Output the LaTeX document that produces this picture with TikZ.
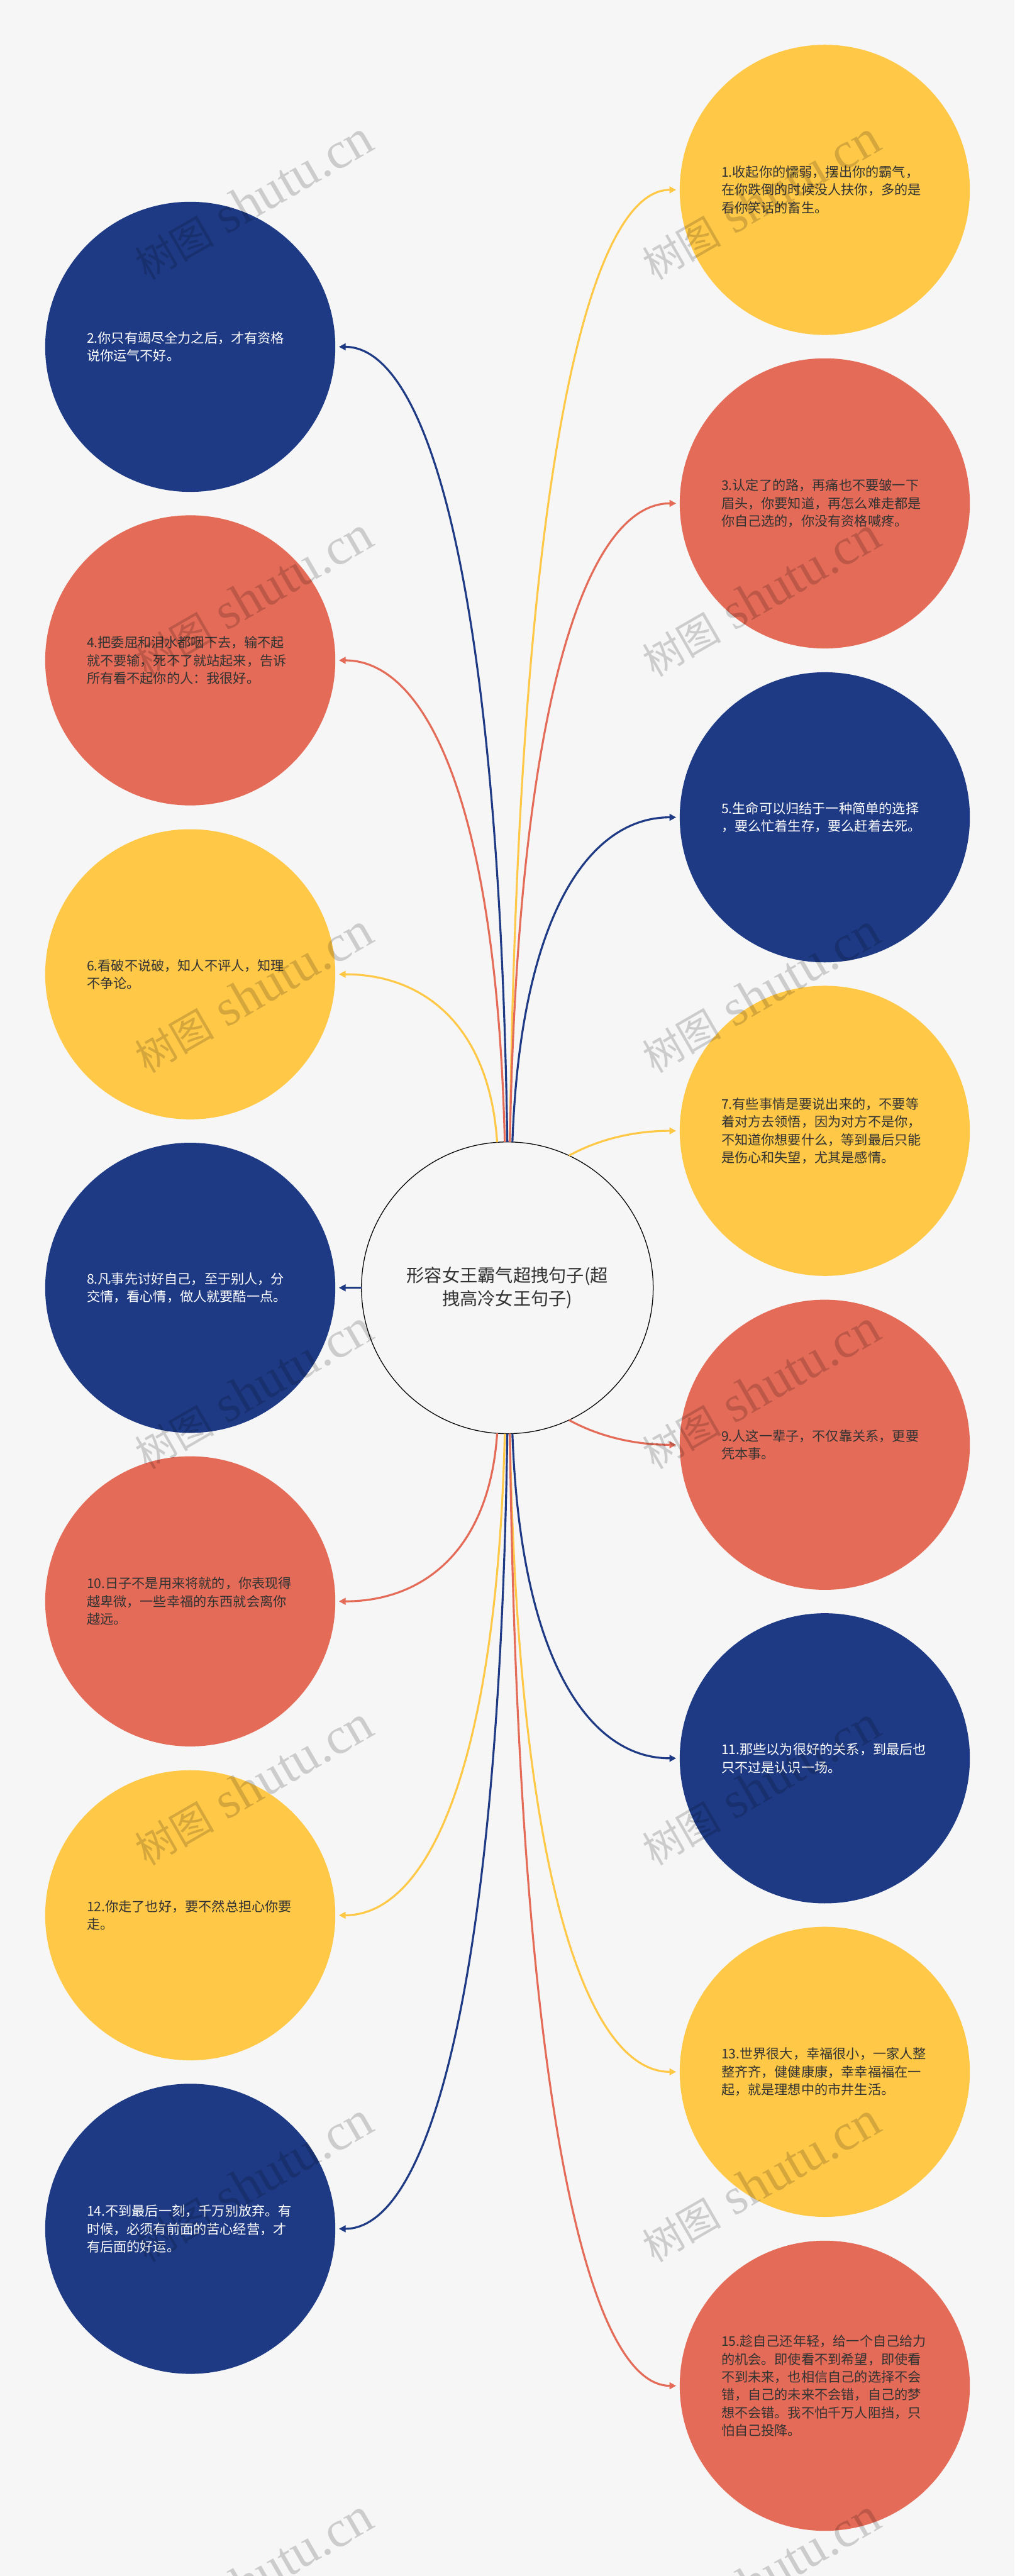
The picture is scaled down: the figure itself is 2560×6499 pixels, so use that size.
\documentclass[tikz,border=0pt]{standalone}
\usepackage{fontspec}
\setmainfont{Noto Sans CJK SC}
\newfontfamily\wmlatin{Liberation Serif}
\usetikzlibrary{arrows.meta,calc}
\definecolor{bgc}{HTML}{F6F6F6}
\definecolor{yel}{HTML}{FFC847}
\definecolor{red}{HTML}{E46B57}
\definecolor{blu}{HTML}{1E3A85}
\definecolor{ink}{HTML}{333333}
\tikzset{
  x=1pt,y=-1pt,
  bubble/.style={circle,minimum size=732pt,inner sep=0pt,outer sep=9pt,text width=522pt,align=left,font=\fontsize{33.6}{45}\selectfont},
  ybub/.style={bubble,fill=yel,text=ink},
  rbub/.style={bubble,fill=red,text=ink},
  bbub/.style={bubble,fill=blu,text=white},
  hub/.style={circle,minimum size=736pt,inner sep=0pt,outer sep=0pt,fill=bgc,draw=black,line width=2pt,text=ink,text width=540pt,align=center,font=\fontsize{44.8}{60}\selectfont},
  link/.style={line width=5pt,-{Triangle[length=17pt,width=17pt]}},
  wm/.style={rotate=30,opacity=0.17,text=black,inner sep=0pt,font=\fontsize{100}{120}\selectfont}
}
\newcommand\linkto[3]{\draw[link,#1] let \p1=(#2),\p2=(#3) in (#2) .. controls ({\x1+0.05*(\x2-\x1)},{\y1+0.7*(\y2-\y1)}) and ({\x2+0.53*(\x1-\x2)},\y2) .. (#3);}
\newcommand\wmtext{树图{\wmlatin\fontsize{130}{120}\selectfont{} shutu.cn}}
\begin{document}
\begin{tikzpicture}
\clip (0,0) rectangle (2560,6499);
\fill[bgc] (0,0) rectangle (2560,6499);
\node[hub] (c) at (1280,3249) {形容女王霸气超拽句子(超\\拽高冷女王句子)};
\node[ybub] (n1) at (2081,479) {1.收起你的懦弱，摆出你的霸气，\\在你跌倒的时候没人扶你，多的是\\看你笑话的畜生。};
\node[bbub] (n2) at (480,875) {2.你只有竭尽全力之后，才有资格\\说你运气不好。};
\node[rbub] (n3) at (2081,1270) {3.认定了的路，再痛也不要皱一下\\眉头，你要知道，再怎么难走都是\\你自己选的，你没有资格喊疼。};
\node[rbub] (n4) at (480,1666) {4.把委屈和泪水都咽下去，输不起\\就不要输，死不了就站起来，告诉\\所有看不起你的人：我很好。};
\node[bbub] (n5) at (2081,2062) {5.生命可以归结于一种简单的选择\\，要么忙着生存，要么赶着去死。};
\node[ybub] (n6) at (480,2458) {6.看破不说破，知人不评人，知理\\不争论。};
\node[ybub] (n7) at (2081,2853) {7.有些事情是要说出来的，不要等\\着对方去领悟，因为对方不是你，\\不知道你想要什么，等到最后只能\\是伤心和失望，尤其是感情。};
\node[bbub] (n8) at (480,3249) {8.凡事先讨好自己，至于别人，分\\交情，看心情，做人就要酷一点。};
\node[rbub] (n9) at (2081,3645) {9.人这一辈子，不仅靠关系，更要\\凭本事。};
\node[rbub] (n10) at (480,4040) {10.日子不是用来将就的，你表现得\\越卑微，一些幸福的东西就会离你\\越远。};
\node[bbub] (n11) at (2081,4436) {11.那些以为很好的关系，到最后也\\只不过是认识一场。};
\node[ybub] (n12) at (480,4832) {12.你走了也好，要不然总担心你要\\走。};
\node[ybub] (n13) at (2081,5227) {13.世界很大，幸福很小，一家人整\\整齐齐，健健康康，幸幸福福在一\\起，就是理想中的市井生活。};
\node[bbub] (n14) at (480,5623) {14.不到最后一刻，千万别放弃。有\\时候，必须有前面的苦心经营，才\\有后面的好运。};
\node[rbub] (n15) at (2081,6019) {15.趁自己还年轻，给一个自己给力\\的机会。即使看不到希望，即使看\\不到未来，也相信自己的选择不会\\错，自己的未来不会错，自己的梦\\想不会错。我不怕千万人阻挡，只\\怕自己投降。};
\linkto{yel}{c.89.7}{n1.west}
\linkto{blu}{c.90.3}{n2.east}
\linkto{red}{c.89.2}{n3.west}
\linkto{red}{c.91.1}{n4.east}
\linkto{blu}{c.88.1}{n5.west}
\linkto{yel}{c.94.7}{n6.east}
\draw[link,yel] (c.65.4) .. controls +(47,-26) and +(-136,0) .. (n7.west);
\draw[link,blu] (c.180) -- (n8.east);
\draw[link,red] (c.-65.4) .. controls +(47,26) and +(-136,0) .. (n9.west);
\linkto{red}{c.-94.7}{n10.east}
\linkto{blu}{c.-88.1}{n11.west}
\linkto{yel}{c.-91.2}{n12.east}
\linkto{yel}{c.-89.2}{n13.west}
\linkto{blu}{c.-90.5}{n14.east}
\linkto{red}{c.-89.5}{n15.west}
\foreach \k in {0,...,6}{
  \node[wm] (wl\k) at (640,506+1000*\k) {\wmtext};
  \node[wm] (wr\k) at (1920,506+1000*\k) {\wmtext};
}
\end{tikzpicture}
\end{document}
